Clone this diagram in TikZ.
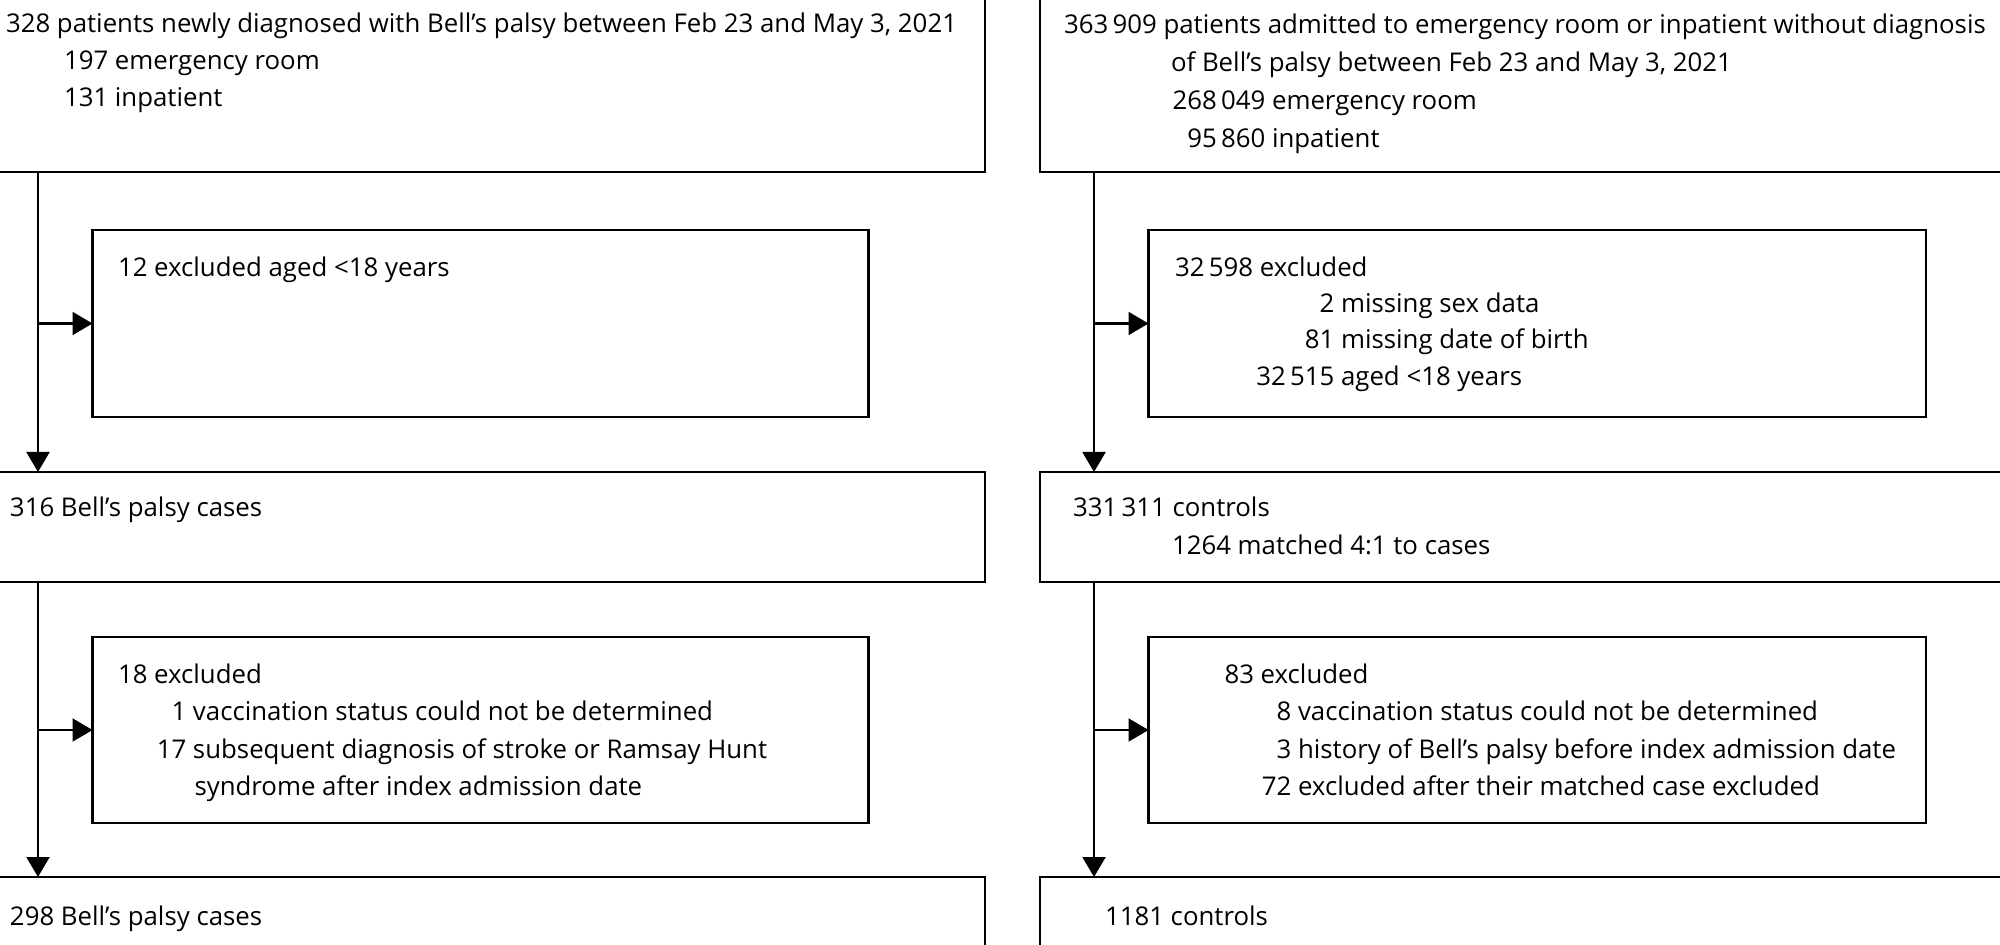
\documentclass[tikz,border=0pt]{standalone}
\usepackage{fontspec}
\setmainfont{Open Sans}
\usetikzlibrary{arrows.meta}
\newcommand\fs{\fontsize{12.9pt}{15pt}\selectfont}
\newcommand\num[1]{\llap{#1\space}}
\begin{document}
\begin{tikzpicture}[x=0.5pt,y=-0.5pt,
  box/.style={draw, line width=1.1pt, inner sep=0pt, outer sep=0pt, anchor=north west},
  conn/.style={line width=1.05pt, -{Triangle[length=10pt,width=11.5pt]}},
  txt/.style={anchor=base west, inner sep=0pt, outer sep=0pt, font=\fs}]
\useasboundingbox (0,0) rectangle (2000,945);
\clip (0,0) rectangle (2000,945);
\fill[white] (0,0) rectangle (2000,945);
% boxes
\node[box, minimum width=502.5pt, minimum height=96pt] (tL) at (-20,-20) {};
\node[box, minimum width=500pt, minimum height=96pt] (tR) at (1040,-20) {};
\node[box, minimum width=388pt, minimum height=93.5pt] (eL1) at (92.5,230) {};
\node[box, minimum width=388.75pt, minimum height=93.5pt] (eR1) at (1148.5,230) {};
\node[box, minimum width=502.5pt, minimum height=55pt] (mL) at (-20,472) {};
\node[box, minimum width=500pt, minimum height=55pt] (mR) at (1040,472) {};
\node[box, minimum width=388pt, minimum height=93pt] (eL2) at (92.5,637) {};
\node[box, minimum width=388.75pt, minimum height=93pt] (eR2) at (1148.5,637) {};
\node[box, minimum width=502.5pt, minimum height=50pt] (bL) at (-20,877) {};
\node[box, minimum width=500pt, minimum height=50pt] (bR) at (1040,877) {};
% connectors
\coordinate (vL) at (38,0);
\coordinate (vR) at (1094,0);
\draw[conn] (tL.south -| vL) -- (mL.north -| vL);
\draw[conn] (eL1.west -| vL) -- (eL1.west);
\draw[conn] (mL.south -| vL) -- (bL.north -| vL);
\draw[conn] (eL2.west -| vL) -- (eL2.west);
\draw[conn] (tR.south -| vR) -- (mR.north -| vR);
\draw[conn] (eR1.west -| vR) -- (eR1.west);
\draw[conn] (mR.south -| vR) -- (bR.north -| vR);
\draw[conn] (eR2.west -| vR) -- (eR2.west);
% texts left
\node[txt] (a1) at (6,33) {328 patients newly diagnosed with Bell’s palsy between Feb 23 and May 3, 2021};
\node[txt] (a2) at (64,70) {197 emergency room};
\node[txt] (a3) at (64,107) {131 inpatient};
\node[txt] (b1) at (118,277) {12 excluded aged <18 years};
\node[txt] (c1) at (10,517) {316 Bell’s palsy cases};
\node[txt] (d1) at (118,683) {18 excluded};
\node[txt] (d2) at (193,720) {\num{1}vaccination status could not be determined};
\node[txt] (d3) at (193,758) {\num{17}subsequent diagnosis of stroke or Ramsay Hunt};
\node[txt] (d4) at (194.5,795) {syndrome after index admission date};
\node[txt] (e1) at (10,925) {298 Bell’s palsy cases};
% texts right
\node[txt] (f1) at (1064,34) {363\,909 patients admitted to emergency room or inpatient without diagnosis};
\node[txt] (f2) at (1171,72) {of Bell’s palsy between Feb 23 and May 3, 2021};
\node[txt] (f3) at (1272,110) {\num{268\,049}emergency room};
\node[txt] (f4) at (1272,148) {\num{95\,860}inpatient};
\node[txt] (g1) at (1175,277) {32\,598 excluded};
\node[txt] (g2) at (1341,313) {\num{2}missing sex data};
\node[txt] (g3) at (1341,349) {\num{81}missing date of birth};
\node[txt] (g4) at (1341,386) {\num{32\,515}aged <18 years};
\node[txt] (h1) at (1073,517) {331\,311 controls};
\node[txt] (h2) at (1172,555) {1264 matched 4:1 to cases};
\node[txt] (i1) at (1224.5,683) {83 excluded};
\node[txt] (i2) at (1298,720) {\num{8}vaccination status could not be determined};
\node[txt] (i3) at (1298,758) {\num{3}history of Bell’s palsy before index admission date};
\node[txt] (i4) at (1298,795) {\num{72}excluded after their matched case excluded};
\node[txt] (j1) at (1105,925) {1181 controls};
\end{tikzpicture}
\end{document}
